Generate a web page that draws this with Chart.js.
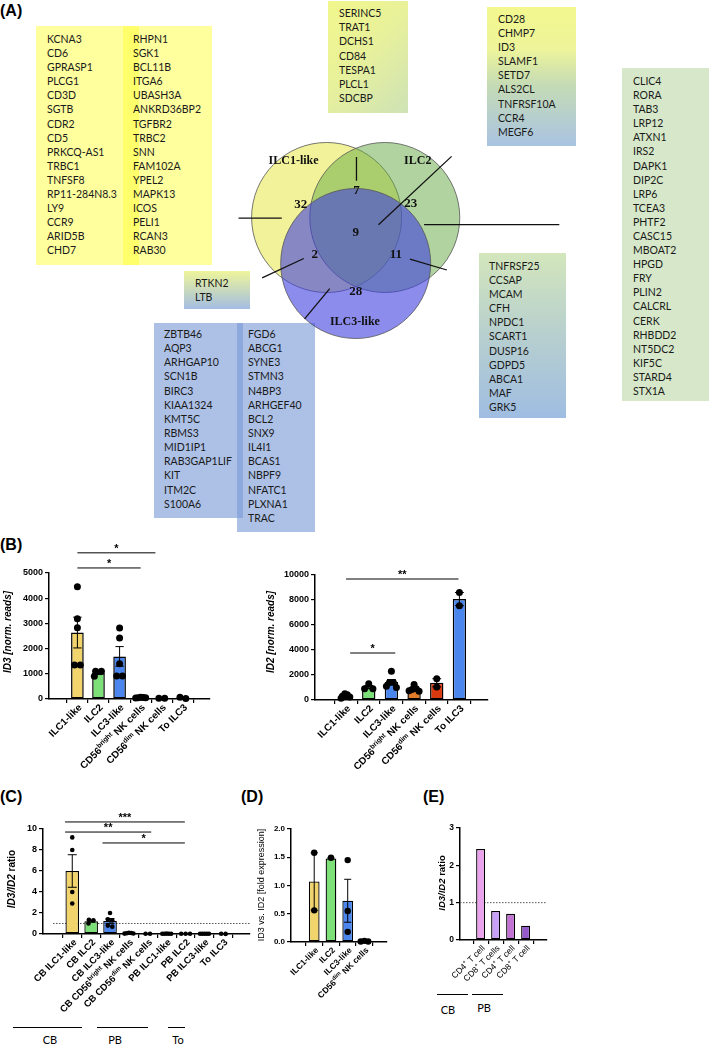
<!DOCTYPE html>
<html>
<head>
<meta charset="utf-8">
<script src="https://cdn.jsdelivr.net/npm/chart.js@4.4.1/dist/chart.umd.min.js"></script>
<style>
html, body { margin: 0; padding: 0; background: #fff; }
#page { position: relative; width: 709px; height: 1045px; overflow: hidden; font-family: 'Liberation Sans', Arial, sans-serif; }
canvas { position: absolute; }
.box { position: absolute; }
.genes { position: absolute; font-family: Lato, 'Open Sans', sans-serif; font-size: 10.5px; color: #1a1a1a; white-space: nowrap; }
.plabel { position: absolute; font-weight: bold; font-size: 16px; line-height: 16px; }
.grp { position: absolute; height: 0; border-top: 1.5px solid #000; }
.grpt { position: absolute; font-family: Lato, sans-serif; font-size: 11px; line-height: 12px; transform: translateX(-50%); }
</style>
</head>
<body>
<div id="page"></div>
<script>
// ---------- panel A data ----------
const vennSets = ['ILC1-like', 'ILC2', 'ILC3-like'];
const vennRegions = ['1', '1+2', '2', '1+2+3', '1+3', '2+3', '3'];
const vennCounts = [32, 7, 23, 9, 2, 11, 28];

const genesILC1a = ['KCNA3', 'CD6', 'GPRASP1', 'PLCG1', 'CD3D', 'SGTB', 'CDR2', 'CD5', 'PRKCQ-AS1', 'TRBC1', 'TNFSF8', 'RP11-284N8.3', 'LY9', 'CCR9', 'ARID5B', 'CHD7'];
const genesILC1b = ['RHPN1', 'SGK1', 'BCL11B', 'ITGA6', 'UBASH3A', 'ANKRD36BP2', 'TGFBR2', 'TRBC2', 'SNN', 'FAM102A', 'YPEL2', 'MAPK13', 'ICOS', 'PELI1', 'RCAN3', 'RAB30'];
const genes12 = ['SERINC5', 'TRAT1', 'DCHS1', 'CD84', 'TESPA1', 'PLCL1', 'SDCBP'];
const genes123 = ['CD28', 'CHMP7', 'ID3', 'SLAMF1', 'SETD7', 'ALS2CL', 'TNFRSF10A', 'CCR4', 'MEGF6'];
const genesILC2 = ['CLIC4', 'RORA', 'TAB3', 'LRP12', 'ATXN1', 'IRS2', 'DAPK1', 'DIP2C', 'LRP6', 'TCEA3', 'PHTF2', 'CASC15', 'MBOAT2', 'HPGD', 'FRY', 'PLIN2', 'CALCRL', 'CERK', 'RHBDD2', 'NT5DC2', 'KIF5C', 'STARD4', 'STX1A'];
const genes13 = ['RTKN2', 'LTB'];
const genes23 = ['TNFRSF25', 'CCSAP', 'MCAM', 'CFH', 'NPDC1', 'SCART1', 'DUSP16', 'GDPD5', 'ABCA1', 'MAF', 'GRK5'];
const genesILC3a = ['ZBTB46', 'AQP3', 'ARHGAP10', 'SCN1B', 'BIRC3', 'KIAA1324', 'KMT5C', 'RBMS3', 'MID1IP1', 'RAB3GAP1LIF', 'KIT', 'ITM2C', 'S100A6'];
const genesILC3b = ['FGD6', 'ABCG1', 'SYNE3', 'STMN3', 'N4BP3', 'ARHGEF40', 'BCL2', 'SNX9', 'IL4I1', 'BCAS1', 'NBPF9', 'NFATC1', 'PLXNA1', 'TRAC'];

// ---------- panel B data ----------
const bCats = ['ILC1-like', 'ILC2', 'ILC3-like', 'CD56^{bright} NK cells', 'CD56^{dim} NK cells', 'To ILC3'];
const id3Means = [2636, 1030, 1690, 55, 28, 45];
const id3Sems = [610, 60, 390, 6, 3, 25];
const id3Points = [[4450, 3180, 2830, 1350, 1350], [1100, 1100, 900], [2820, 2420, 1400, 910, 910], [70, 60, 50, 45, 40], [25, 30], [20, 70]];
const id2Means = [320, 1030, 1440, 890, 1375, 8075];
const id2Sems = [60, 130, 200, 100, 325, 525];
const id2Points = [[500, 420, 300, 250, 150], [1300, 900, 900], [2300, 1400, 1400, 1100, 1000], [1250, 900, 850, 750, 700], [1700, 1050], [8600, 7550]];

// ---------- panel C data ----------
const cCats = ['CB ILC1-like', 'CB ILC2', 'CB ILC3-like', 'CB CD56^{bright} NK cells', 'CB CD56^{dim} NK cells', 'PB ILC1-like', 'PB ILC2', 'PB ILC3-like', 'To ILC3'];
const cMeans = [6.0, 1.22, 1.24, 0.07, 0.025, 0.03, 0.027, 0.024, 0.015];
const cSems = [1.55, 0.1, 0.23, 0.015, 0.005, 0.004, 0.003, 0.003, 0.005];
const cPoints = [[9.2, 8.0, 4.0, 2.9], [1.35, 1.3, 1.0], [2.0, 1.4, 1.3, 0.8, 0.7], [0.12, 0.09, 0.07, 0.05, 0.04], [0.03, 0.02], [0.04, 0.03, 0.03, 0.02, 0.02], [0.03, 0.03, 0.02], [0.03, 0.03, 0.02, 0.02, 0.02], [0.02, 0.01]];

// ---------- panel D data ----------
const dCats = ['ILC1-like', 'ILC2', 'ILC3-like', 'CD56^{dim} NK cells'];
const dMeans = [1.07, 1.48, 0.73, 0.013];
const dSems = [0.51, 0.01, 0.38, 0.003];
const dPoints = [[1.58, 0.56], [1.49], [1.45, 0.55, 0.18], [0.02, 0.01, 0.01]];

// ---------- panel E data ----------
const eCats = ['CD4^{+} T cell', 'CD8^{+} T cells', 'CD4^{+} T cell', 'CD8^{+} T cell'];
const eValues = [2.44, 0.78, 0.70, 0.38];

const page = document.getElementById('page');

function addDiv(cls, css, html) {
  const d = document.createElement('div');
  d.className = cls;
  Object.assign(d.style, css);
  if (html != null) d.innerHTML = html;
  page.appendChild(d);
  return d;
}

// gene list boxes (backgrounds then text)
addDiv('box', { left: '36px', top: '26px', width: '176px', height: '239px', background: '#ffff9e' });
addDiv('box', { left: '123px', top: '26px', width: '16px', height: '239px', background: '#ffff6c' });
addDiv('box', { left: '328px', top: '1px', width: '80px', height: '112px', background: 'linear-gradient(135deg,#f2f78c 0%,#e8f19a 45%,#cee3b6 100%)' });
addDiv('box', { left: '487px', top: '7px', width: '89px', height: '139px', background: 'linear-gradient(180deg,#f3f78e 0%,#eef59a 30%,#c6dcb4 55%,#a9c3e2 100%)' });
addDiv('box', { left: '622px', top: '68px', width: '87px', height: '333px', background: '#d6e8c9' });
addDiv('box', { left: '184px', top: '271px', width: '66px', height: '38px', background: 'linear-gradient(180deg,#eef59a 0%,#a3bde2 100%)' });
addDiv('box', { left: '479px', top: '253px', width: '87px', height: '165px', background: 'linear-gradient(180deg,#d3e6bc 0%,#b7cfcf 50%,#9fbde2 100%)' });
addDiv('box', { left: '154px', top: '323px', width: '89px', height: '195px', background: 'rgba(118,152,213,0.6)' });
addDiv('box', { left: '237px', top: '323px', width: '78px', height: '209px', background: 'rgba(118,152,213,0.6)' });

function geneList(list, x, yFirst, lh) {
  addDiv('genes', { left: x + 'px', top: (yFirst - lh / 2) + 'px', lineHeight: lh + 'px' }, list.join('<br>'));
}
geneList(genesILC1a, 47, 39, 14.1);
geneList(genesILC1b, 133, 39, 14.1);
geneList(genes12, 339, 13, 14.2);
geneList(genes123, 498, 19, 14.1);
geneList(genesILC2, 633, 81, 14.1);
geneList(genes13, 195, 283, 14.1);
geneList(genes23, 489, 266, 14.1);
geneList(genesILC3a, 164, 334, 14.15);
geneList(genesILC3b, 248, 334, 14.15);

function newCanvas(l, t, w, h, z) {
  const cv = document.createElement('canvas');
  cv.width = w; cv.height = h;
  cv.style.left = l + 'px'; cv.style.top = t + 'px';
  cv.style.zIndex = z || 2;
  page.appendChild(cv);
  return cv;
}

// ---------- Venn ----------
const vennCircles = [{ x: 319, y: 197 }, { x: 393, y: 197 }, { x: 356, y: 261 }];
const vennFill = ['rgb(242,242,154)', 'rgba(97,167,65,0.5)', 'rgba(63,63,223,0.6)'];
const vennCountPos = [[286, 179], [357, 159], [426, 178], [356, 218], [304, 248], [407, 248], [356, 300]];
const vennLabelPos = [[277, 118], [435, 118], [355, 342]];
const connectors = [
  [[207, 198], [262, 198]], [[357, 113], [357, 146]], [[385, 207], [478, 112]],
  [[443, 207], [615, 207]], [[237, 281], [290, 254]], [[425, 255], [472, 270]], [[291, 338], [323, 296]]
];

const vennText = {
  id: 'vennText',
  afterDatasetsDraw(chart) {
    const { ctx, scales: { x, y } } = chart;
    ctx.save();
    ctx.fillStyle = '#111';
    ctx.textAlign = 'center';
    ctx.textBaseline = 'middle';
    ctx.font = 'bold 13px "Liberation Serif"';
    vennCounts.forEach((c, i) => {
      ctx.fillText(String(c), x.getPixelForValue(vennCountPos[i][0]), y.getPixelForValue(vennCountPos[i][1]));
    });
    ctx.font = 'bold 12px "Liberation Serif"';
    vennSets.forEach((s, i) => {
      ctx.fillText(s, x.getPixelForValue(vennLabelPos[i][0]), y.getPixelForValue(vennLabelPos[i][1]));
    });
    ctx.restore();
  }
};

new Chart(newCanvas(0, 0, 709, 540, 2), {
  type: 'bubble',
  data: {
    datasets: [
      ...connectors.map(seg => ({
        type: 'line', data: seg.map(p => ({ x: p[0], y: p[1] })), borderColor: '#111',
        borderWidth: 1.3, pointRadius: 0, order: 1, clip: false
      })),
      {
        type: 'bubble', data: vennCircles.map(c => ({ x: c.x, y: c.y, r: 75 })),
        backgroundColor: vennFill, borderColor: '#555', borderWidth: 0.8, order: 2, clip: false
      }
    ]
  },
  options: {
    responsive: false, animation: false, events: [],
    layout: { padding: 0 },
    plugins: { legend: { display: false }, tooltip: { enabled: false } },
    scales: {
      x: { type: 'linear', display: false, min: 0, max: 709 },
      y: { type: 'linear', display: false, min: 0, max: 540, reverse: true }
    }
  },
  plugins: [vennText]
});

// ---------- helpers for bar panels ----------
function parseRich(s) {
  const parts = [];
  s.split(/(\^\{[^}]*\})/).forEach(p => {
    if (!p) return;
    if (p.startsWith('^{')) parts.push({ t: p.slice(2, -1), sup: true });
    else parts.push({ t: p });
  });
  return parts;
}

function drawRich(ctx, parts, x, y, angle, align, size, weight, style) {
  ctx.save();
  ctx.translate(x, y);
  ctx.rotate(angle);
  ctx.textBaseline = 'middle';
  ctx.textAlign = 'left';
  ctx.fillStyle = '#000';
  const fonts = parts.map(p => `${p.style || style} ${p.weight || weight} ${p.sup ? size * 0.68 : size}px "Liberation Sans"`);
  const widths = parts.map((p, k) => { ctx.font = fonts[k]; return ctx.measureText(p.t).width; });
  const total = widths.reduce((a, b) => a + b, 0);
  let cx = align === 'right' ? -total : align === 'center' ? -total / 2 : 0;
  parts.forEach((p, k) => {
    ctx.font = fonts[k];
    ctx.fillText(p.t, cx, p.sup ? -size * 0.33 : 0);
    cx += widths[k];
  });
  ctx.restore();
}

function swarm(vals, pxPerUnit, diam, maxHalf) {
  const idx = vals.map((v, i) => i).sort((a, b) => vals[b] - vals[a]);
  const placed = [];
  const off = [];
  idx.forEach(i => {
    const y = vals[i] * pxPerUnit;
    for (let k = 0; k < 80; k++) {
      const dx = [k, -k].find(c => placed.every(p => Math.hypot(p.x - c, p.y - y) >= diam * 0.95));
      if (dx !== undefined) { off[i] = dx; placed.push({ x: dx, y: y }); break; }
    }
  });
  const rows = [];
  idx.forEach(i => {
    const y = vals[i] * pxPerUnit;
    const row = rows.find(r => Math.abs(r.y - y) < diam * 0.5);
    if (row) row.m.push(i); else rows.push({ y: y, m: [i] });
  });
  rows.forEach(r => {
    if (r.m.length > 1) {
      const mean = r.m.reduce((s, i) => s + off[i], 0) / r.m.length;
      r.m.forEach(i => { off[i] -= mean; });
    }
  });
  const mx = Math.max(...off.map(Math.abs));
  if (mx > maxHalf) for (let i = 0; i < off.length; i++) off[i] *= maxHalf / mx;
  return off;
}

function barPanel(o) {
  const [bl, bt, bw, bh] = o.box;
  const [L, T, R, B] = o.plot;
  const cv = newCanvas(bl, bt, bw, bh, 3);
  const pxPerCat = (R - L) / (o.xMax - o.xMin);
  const pxPerUnit = (B - T) / o.yMax;
  const pts = [];
  if (o.points) {
    o.points.forEach((vals, i) => {
      const offs = swarm(vals, pxPerUnit, o.pointR * 2, o.maxHalf);
      vals.forEach((v, k) => pts.push({ x: i + offs[k] / pxPerCat, y: v }));
    });
  }
  const labelParts = o.cats.map(parseRich);

  const deco = {
    id: 'deco',
    beforeDatasetsDraw(chart) {
      if (o.refLine == null) return;
      const { ctx, chartArea: a, scales: { y } } = chart;
      const yy = y.getPixelForValue(o.refLine);
      ctx.save();
      ctx.setLineDash([1.5, 1.5]);
      ctx.strokeStyle = '#555';
      ctx.lineWidth = 1;
      ctx.beginPath(); ctx.moveTo(a.left + (o.refInset || 0), yy); ctx.lineTo(a.right, yy); ctx.stroke();
      ctx.restore();
    },
    afterDatasetDraw(chart, args) {
      if (args.index !== 1 || !o.sems) return;
      const { ctx, scales: { y } } = chart;
      const meta = chart.getDatasetMeta(1);
      ctx.save();
      ctx.strokeStyle = '#000';
      ctx.lineWidth = 1;
      meta.data.forEach((bar, i) => {
        const top = y.getPixelForValue(o.means[i] + o.sems[i]);
        const bot = y.getPixelForValue(Math.max(0, o.means[i] - o.sems[i]));
        const cap = bar.width * 0.33;
        ctx.beginPath();
        ctx.moveTo(bar.x, top); ctx.lineTo(bar.x, bot);
        ctx.moveTo(bar.x - cap, top); ctx.lineTo(bar.x + cap, top);
        ctx.moveTo(bar.x - cap, bot); ctx.lineTo(bar.x + cap, bot);
        ctx.stroke();
      });
      ctx.restore();
    },
    afterDraw(chart) {
      const { ctx, scales: { x, y } } = chart;
      // rotated category labels
      labelParts.forEach((parts, i) => {
        drawRich(ctx, parts, x.getPixelForValue(i) + 3, y.getPixelForValue(0) + 7, -Math.PI / 4, 'right', o.labelSize, o.labelWeight, 'normal');
      });
      // y axis title
      drawRich(ctx, o.title, o.titleX - bl, o.titleY - bt, -Math.PI / 2, 'center', o.titleSize, 'bold', 'normal');
      // significance bars
      (o.sigs || []).forEach(s => {
        const x1 = x.getPixelForValue(s[0]), x2 = x.getPixelForValue(s[1]);
        const yy = y.getPixelForValue(s[3]);
        ctx.save();
        ctx.strokeStyle = '#000';
        ctx.lineWidth = 1;
        ctx.beginPath(); ctx.moveTo(x1, yy); ctx.lineTo(x2, yy); ctx.stroke();
        ctx.fillStyle = '#000';
        ctx.font = 'bold 11px "Liberation Sans"';
        ctx.textAlign = 'center';
        ctx.textBaseline = 'alphabetic';
        ctx.fillText(s[2], (x1 + x2) / 2, yy - 1);
        ctx.restore();
      });
    }
  };

  const axisGrid = { drawOnChartArea: false, drawTicks: true, tickLength: 4, color: '#000', lineWidth: 1.2 };
  const axisBorder = { color: '#000', width: 1.5 };

  new Chart(cv, {
    type: 'bar',
    data: {
      datasets: [
        { type: 'scatter', data: pts, pointRadius: o.pointR || 0, backgroundColor: '#000', borderWidth: 0, clip: false },
        {
          type: 'bar', data: o.means.map((v, i) => ({ x: i, y: v })), backgroundColor: o.colors,
          borderColor: '#000', borderWidth: o.barBorder, borderSkipped: false,
          categoryPercentage: o.barFrac, barPercentage: 1, clip: false
        }
      ]
    },
    options: {
      responsive: false, animation: false, events: [],
      layout: { padding: { left: 0, top: T - bt, right: bl + bw - R, bottom: 0 } },
      plugins: { legend: { display: false }, tooltip: { enabled: false } },
      scales: {
        x: {
          type: 'linear', min: o.xMin, max: o.xMax,
          afterBuildTicks: s => { s.ticks = o.cats.map((c, i) => ({ value: i })); },
          afterFit: s => { s.height = bt + bh - B; },
          ticks: { display: false },
          grid: axisGrid, border: axisBorder
        },
        y: {
          type: 'linear', min: 0, max: o.yMax,
          afterFit: s => { s.width = L - bl; },
          ticks: {
            stepSize: o.yStep, color: '#000', padding: 2,
            font: { family: 'Liberation Sans', size: o.tickSize, weight: 'bold' },
            callback: o.yFmt || (v => String(v))
          },
          grid: axisGrid, border: axisBorder
        }
      }
    },
    plugins: [deco]
  });
}

// panel B left: ID3
barPanel({
  box: [0, 520, 250, 270], plot: [49, 573, 210, 699],
  cats: bCats, means: id3Means, sems: id3Sems, points: id3Points,
  colors: ['#f2d46c', '#7ddf78', '#4a86ee', '#e27c28', '#d9390f', '#4a86ee'],
  xMin: -0.71, xMax: 5.65, yMax: 5000, yStep: 1000,
  barFrac: 0.6, barBorder: 1.5, pointR: 3.5, maxHalf: 6,
  labelSize: 10, labelWeight: 'bold', tickSize: 9,
  title: [{ t: 'ID3 [norm. reads]', style: 'italic' }], titleX: 8, titleY: 632, titleSize: 10,
  sigs: [[0, 3.7, '*', 5800], [0, 3, '*', 5200]]
});

// panel B right: ID2
barPanel({
  box: [255, 520, 260, 270], plot: [315, 575, 488, 700],
  cats: bCats, means: id2Means, sems: id2Sems, points: id2Points,
  colors: ['#f2d46c', '#7ddf78', '#4a86ee', '#e27c28', '#d9390f', '#4a86ee'],
  xMin: -0.735, xMax: 5.625, yMax: 10000, yStep: 2000,
  barFrac: 0.59, barBorder: 1.5, pointR: 3.5, maxHalf: 6,
  labelSize: 10, labelWeight: 'bold', tickSize: 9,
  title: [{ t: 'ID2 [norm. reads]', style: 'italic' }], titleX: 271, titleY: 632, titleSize: 10,
  sigs: [[0.18, 2.17, '*', 3760], [0, 4.96, '**', 9680]]
});

// panel C: ratio
barPanel({
  box: [0, 805, 255, 215], plot: [43, 829, 250, 934],
  cats: cCats, means: cMeans, sems: cSems, points: cPoints,
  colors: ['#f2d46c', '#7ddf78', '#4a86ee', '#e27c28', '#d9390f', '#f2d46c', '#7ddf78', '#4a86ee', '#4a86ee'],
  xMin: -0.94, xMax: 8.8, yMax: 10, yStep: 2,
  barFrac: 0.72, barBorder: 1.3, pointR: 2.3, maxHalf: 5,
  labelSize: 9.5, labelWeight: 'bold', tickSize: 9,
  title: [{ t: 'ID3/ID2', style: 'italic' }, { t: ' ratio' }], titleX: 12, titleY: 879, titleSize: 10,
  refLine: 1, refInset: 10,
  sigs: [[-0.38, 5.96, '***', 10.67], [-0.38, 4.18, '**', 9.71], [1.6, 5.96, '*', 8.67]]
});

// panel D: fold expression
barPanel({
  box: [255, 805, 150, 215], plot: [291, 829, 387, 942],
  cats: dCats, means: dMeans, sems: dSems, points: dPoints,
  colors: ['#f2d46c', '#7ddf78', '#4a86ee', '#d9390f'],
  xMin: -0.67, xMax: 3.63, yMax: 2, yStep: 0.5, yFmt: v => v.toFixed(1),
  barFrac: 0.64, barBorder: 1.3, pointR: 3.2, maxHalf: 5,
  labelSize: 8.5, labelWeight: 'bold', tickSize: 8,
  title: [{ t: 'ID3 vs. ID2 [fold expression]', weight: 'normal' }], titleX: 262, titleY: 885, titleSize: 9,
  sigs: []
});

// panel E: T cells
barPanel({
  box: [420, 805, 140, 190], plot: [460, 828, 547, 940],
  cats: eCats, means: eValues, sems: null, points: null,
  colors: ['#eba2ec', '#c9a0f7', '#c272d3', '#955ac9'],
  xMin: -0.65, xMax: 3.7, yMax: 3, yStep: 1,
  barFrac: 0.6, barBorder: 1.3, pointR: 0, maxHalf: 5,
  labelSize: 8.5, labelWeight: 'normal', tickSize: 8.5,
  title: [{ t: 'ID3/ID2', style: 'italic' }, { t: ' ratio' }], titleX: 442, titleY: 883, titleSize: 9.5,
  refLine: 1, sigs: []
});

// panel letters
[['(A)', 0, 3], ['(B)', 0, 537], ['(C)', 0, 789], ['(D)', 241, 789], ['(E)', 423, 789]].forEach(p => {
  addDiv('plabel', { left: p[1] + 'px', top: p[2] + 'px' }, p[0]);
});

// tissue group bars under C and E
[[13, 82, 1027, 'CB', 50, 1034], [97, 148, 1027, 'PB', 115, 1034], [168, 185, 1027, 'To', 178, 1034],
 [437, 468, 994, 'CB', 448, 1004], [472, 503, 994, 'PB', 484, 1002]].forEach(g => {
  addDiv('grp', { left: g[0] + 'px', width: (g[1] - g[0]) + 'px', top: g[2] + 'px' });
  addDiv('grpt', { left: g[4] + 'px', top: g[5] + 'px' }, g[3]);
});
</script>
</body>
</html>
